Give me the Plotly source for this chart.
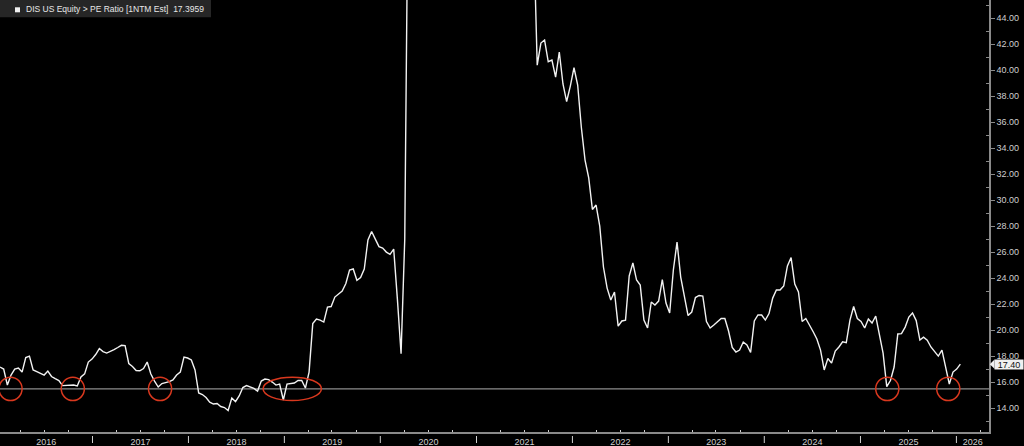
import pandas as pd
import plotly.graph_objects as go

# ---------------- data ----------------
start_date = "2016-01-15"          # first observation
step_days = 14                      # spacing of observations
pe_ratio = [
    17.18, 17.02, 15.79, 16.56, 17.02, 17.10, 16.79, 17.91, 18.02, 16.95,
    16.82, 16.68, 16.56, 16.87, 16.45, 16.29, 16.14, 15.75, 15.75, 15.74,
    15.79, 15.72, 16.41, 16.65, 17.56, 17.79, 18.14, 18.60, 18.37, 18.25,
    18.37, 18.52, 18.68, 18.85, 18.83, 17.45, 17.22, 16.91, 16.89, 17.06,
    17.56, 16.64, 16.10, 15.64, 15.91, 15.98, 16.06, 16.18, 16.56, 16.79,
    17.94, 17.87, 17.72, 16.95, 15.18, 15.06, 14.83, 14.48, 14.33, 14.37,
    14.14, 14.06, 13.83, 14.79, 14.52, 14.95, 15.60, 15.75, 15.64, 15.53,
    15.33, 16.10, 16.25, 16.21, 16.02, 15.79, 15.87, 14.64, 15.87, 15.92,
    15.95, 16.14, 16.14, 15.56, 16.79, 20.52, 20.87, 20.79, 20.64, 21.79,
    21.83, 22.56, 22.79, 23.02, 23.60, 24.64, 24.72, 23.85, 24.06, 24.72,
    26.95, 27.60, 27.02, 26.44, 26.33, 26.02, 25.85, 26.25, 22.40, 18.20,
    27.00, 58.0, 64.0, 70.0, 77.0, 84.0, 90.0, 97.0, 105.0, 112.0,
    118.0, 124.0, 129.0, 126.0, 120.0, 114.0, 108.0, 102.0, 96.0, 91.0,
    86.0, 81.0, 77.0, 73.0, 69.0, 65.0, 62.0, 59.0, 57.0, 55.0,
    54.0, 53.0, 52.0, 52.0, 51.0, 51.0, 40.40, 42.10, 42.33, 40.66,
    40.79, 39.48, 41.41, 38.95, 37.60, 38.79, 40.20, 38.87, 35.60, 33.10,
    31.72, 29.30, 29.64, 28.02, 24.87, 23.25, 22.33, 22.95, 20.33, 20.72,
    20.79, 24.18, 25.18, 23.87, 23.48, 20.79, 20.18, 22.18, 21.95, 22.25,
    23.91, 22.10, 21.33, 24.64, 26.79, 24.10, 22.75, 21.14, 21.41, 22.52,
    22.68, 22.64, 20.68, 20.18, 20.41, 20.64, 20.91, 20.91, 19.95, 18.68,
    18.33, 18.48, 19.10, 18.87, 18.30, 20.72, 21.18, 21.18, 20.79, 21.29,
    22.48, 23.10, 23.10, 23.41, 24.95, 25.60, 23.56, 22.95, 20.68, 20.91,
    20.45, 19.89, 19.33, 18.48, 16.95, 17.83, 17.48, 18.41, 18.72, 19.12,
    19.06, 20.79, 21.83, 20.91, 20.68, 20.18, 20.87, 20.56, 21.10, 19.72,
    18.25, 15.67, 16.14, 17.18, 19.72, 19.75, 20.25, 21.02, 21.33, 20.75,
    19.25, 19.48, 19.25, 18.72, 18.33, 18.02, 18.48, 17.06, 15.87, 16.79,
    17.02, 17.3959,
]
years = list(range(2016, 2027))
y_tick_values = list(range(14, 46, 2))
support_level = 15.5
series_name = "DIS US Equity > PE Ratio [1NTM Est]"

# highlighted touches of the support level (centre date, half width in days)
highlights = [
    ("2016-02-24", 44),
    ("2016-10-18", 44),
    ("2017-09-15", 44),
    ("2019-01-31", 111),
    ("2025-04-13", 44),
    ("2025-12-01", 44),
]

# ---------------- layout constants ----------------
W, H = 1024, 446
M_L, M_R, M_T, M_B = 0, 35, 0, 14
PW, PH = W - M_L - M_R, H - M_T - M_B
x_lo, x_hi = pd.Timestamp("2016-01-15"), pd.Timestamp("2026-05-05")
y_lo, y_hi = 12.18, 45.41
FONT = "Liberation Sans, Arial, sans-serif"
AXIS_GRAY = "#8a8a8a"
LABEL_GRAY = "#cfcfcf"

dates = pd.date_range(start_date, periods=len(pe_ratio), freq=f"{step_days}D")

fig = go.Figure()
fig.add_trace(go.Scatter(
    x=dates, y=pe_ratio, mode="lines",
    line=dict(color="#f2f2f2", width=1.4),
    name=series_name, showlegend=False, hoverinfo="x+y",
))

shapes = []
# support line
shapes.append(dict(type="line", xref="paper", yref="y", x0=0, x1=1,
                   y0=support_level, y1=support_level,
                   line=dict(color="#8c8c8c", width=1.3), layer="below"))
# red circles
for d, hw in highlights:
    c = pd.Timestamp(d)
    shapes.append(dict(type="circle", xref="x", yref="y",
                       x0=c - pd.Timedelta(days=hw), x1=c + pd.Timedelta(days=hw),
                       y0=support_level - 0.9, y1=support_level + 0.9,
                       line=dict(color="#d9381e", width=1.5)))
# year separators under the axis
for yr in years[1:]:
    d = pd.Timestamp(f"{yr}-01-01")
    shapes.append(dict(type="line", xref="x", yref="paper", x0=d, x1=d,
                       y0=-4 / PH, y1=-11 / PH, line=dict(color=LABEL_GRAY, width=1)))
# legend box + white square
shapes.append(dict(type="rect", xref="paper", yref="paper", x0=0, x1=211 / PW,
                   y0=1 - 17.3 / PH, y1=1, fillcolor="#262626", line=dict(width=0)))
shapes.append(dict(type="rect", xref="paper", yref="paper", x0=15 / PW, x1=20 / PW,
                   y0=1 - 12.3 / PH, y1=1 - 7.3 / PH, fillcolor="#f0f0f0", line=dict(width=0)))
# last value pointer
last = pe_ratio[-1]
shapes.append(dict(type="path", xref="paper", yref="y",
                   path=f"M {1 + 0.8 / PW},{last} L {1 + 5.5 / PW},{last + 0.36} "
                        f"L {1 + 5.5 / PW},{last - 0.36} Z",
                   fillcolor="#f0f0f0", line=dict(width=0)))

annotations = [
    dict(xref="paper", yref="paper", x=24 / PW, y=1 - 9 / PH, xanchor="left", yanchor="middle",
         text=f"{series_name}  {last:.4f}", showarrow=False,
         font=dict(family=FONT, size=8.5, color="#e6e6e6")),
    dict(xref="paper", yref="y", x=1 + 5 / PW, y=last, xanchor="left", yanchor="middle",
         text=f"{last:.2f}", showarrow=False, bgcolor="#f0f0f0", borderpad=0,
         width=28, height=9, font=dict(family=FONT, size=9, color="#111111")),
]

# year label positions: centre of the visible part of each year
tickvals, ticktext = [], []
for yr in years:
    a = max(pd.Timestamp(f"{yr}-01-01"), x_lo)
    b = min(pd.Timestamp(f"{yr + 1}-01-01"), x_hi)
    tickvals.append(a + (b - a) / 2)
    ticktext.append(str(yr))
quarter_ticks = [pd.Timestamp(f"{yr}-{m:02d}-01") for yr in years for m in (4, 7, 10)]
quarter_ticks = [q for q in quarter_ticks if x_lo <= q <= x_hi]

fig.update_layout(
    width=W, height=H,
    margin=dict(l=M_L, r=M_R, t=M_T, b=M_B, pad=0),
    paper_bgcolor="#000000", plot_bgcolor="#000000",
    font=dict(family=FONT, size=9, color=LABEL_GRAY),
    shapes=shapes, annotations=annotations, showlegend=False,
    xaxis=dict(
        range=[x_lo, x_hi], showgrid=False, zeroline=False,
        showline=True, linecolor=AXIS_GRAY, linewidth=1.5,
        tickmode="array", tickvals=tickvals, ticktext=ticktext, ticks="",
        tickfont=dict(family=FONT, size=9, color=LABEL_GRAY),
        minor=dict(tickmode="array", tickvals=quarter_ticks, ticks="inside",
                   ticklen=2, tickcolor=LABEL_GRAY, tickwidth=1, showgrid=False),
        automargin=False, fixedrange=True,
    ),
    yaxis=dict(
        side="right", range=[y_lo, y_hi], showgrid=False, zeroline=False,
        showline=True, linecolor=AXIS_GRAY, linewidth=1.5,
        tickmode="array", tickvals=y_tick_values, tickformat=".2f",
        ticks="outside", ticklen=4, tickcolor=AXIS_GRAY, tickwidth=1,
        tickfont=dict(family=FONT, size=9, color=LABEL_GRAY),
        minor=dict(tickmode="array", tickvals=[v + 1 for v in range(12, 45, 2)],
                   ticks="inside", ticklen=3, tickcolor=AXIS_GRAY, tickwidth=1, showgrid=False),
        automargin=False, fixedrange=True,
    ),
)

fig.write_html(
    "out.html",
    config={"displayModeBar": False},
    post_script="document.body.style.margin='0';document.body.style.overflow='hidden';",
)
